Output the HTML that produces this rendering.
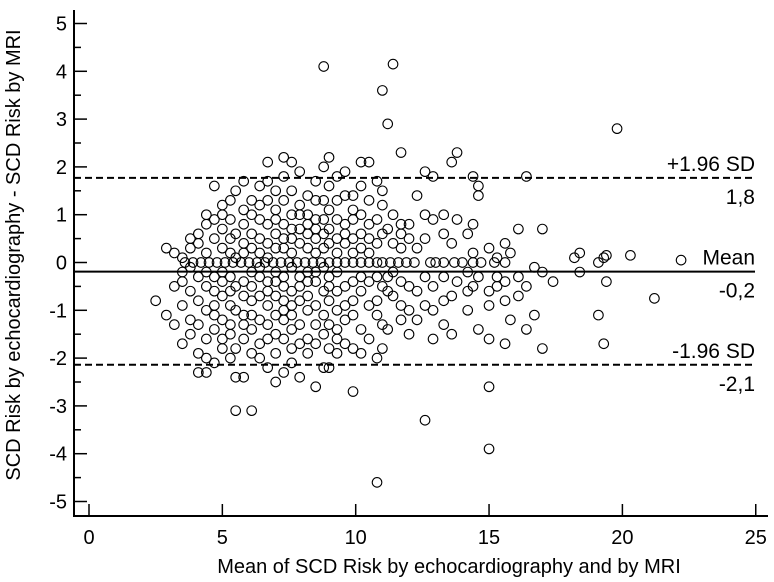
<!DOCTYPE html>
<html><head><meta charset="utf-8"><style>
html,body{margin:0;padding:0;background:#fff}
svg{display:block;font-family:"Liberation Sans",Arial,sans-serif}
</style></head><body>
<svg id="chart" width="774" height="582" viewBox="0 0 774 582" xmlns="http://www.w3.org/2000/svg"></svg>
<script>
const meanValues = [
3.6,3.9,4.2,4.5,4.8,5.1,5.4,5.7,6.0,6.3,6.6,6.9,7.2,7.5,7.8,8.1,8.4,8.7,9.0,9.3,9.6,9.9,10.2,10.5,10.8,11.0,11.3,11.6,11.9,12.2,12.8,13.0,13.3,13.7,14.0,14.4,14.7,15.2,15.6,
2.5,2.9,2.9,3.2,3.2,3.2,3.5,3.5,3.5,3.5,3.5,3.8,3.8,3.8,3.8,3.8,3.8,
4.1,4.1,4.1,4.1,4.1,4.1,4.1,4.4,4.4,4.4,4.4,4.4,4.4,4.4,4.4,4.4,
4.7,4.7,4.7,4.7,4.7,4.7,4.7,4.7,4.7,5.0,5.0,5.0,5.0,5.0,5.0,5.0,5.0,5.0,5.0,
5.3,5.3,5.3,5.3,5.3,5.3,5.3,5.3,5.3,5.3,5.5,5.5,5.5,5.5,5.5,5.5,5.5,5.5,
5.8,5.8,5.8,5.8,5.8,5.8,5.8,5.8,5.8,5.8,5.8,6.1,6.1,6.1,6.1,6.1,6.1,6.1,6.1,6.1,6.1,6.1,
6.4,6.4,6.4,6.4,6.4,6.4,6.4,6.4,6.4,6.4,6.4,6.7,6.7,6.7,6.7,6.7,6.7,6.7,6.7,6.7,6.7,6.7,6.7,
7.0,7.0,7.0,7.0,7.0,7.0,7.0,7.0,7.0,7.0,7.0,7.0,7.3,7.3,7.3,7.3,7.3,7.3,7.3,7.3,7.3,7.3,7.3,7.3,7.3,
7.6,7.6,7.6,7.6,7.6,7.6,7.6,7.6,7.6,7.6,7.6,7.6,7.6,7.9,7.9,7.9,7.9,7.9,7.9,7.9,7.9,7.9,7.9,7.9,
8.2,8.2,8.2,8.2,8.2,8.2,8.2,8.2,8.2,8.2,8.2,8.5,8.5,8.5,8.5,8.5,8.5,8.5,8.5,8.5,8.5,8.5,8.5,
8.8,8.8,8.8,8.8,8.8,8.8,8.8,8.8,8.8,8.8,8.8,9.0,9.0,9.0,9.0,9.0,9.0,9.0,9.0,9.0,9.0,9.0,
9.3,9.3,9.3,9.3,9.3,9.3,9.3,9.3,9.3,9.3,9.3,9.6,9.6,9.6,9.6,9.6,9.6,9.6,9.6,9.6,
9.9,9.9,9.9,9.9,9.9,9.9,9.9,9.9,9.9,9.9,10.2,10.2,10.2,10.2,10.2,10.2,10.2,10.2,10.2,
10.5,10.5,10.5,10.5,10.5,10.5,10.5,10.5,10.8,10.8,10.8,10.8,10.8,10.8,10.8,10.8,
11.0,11.0,11.0,11.0,11.0,11.0,11.0,11.2,11.2,11.2,11.2,11.2,11.4,11.4,11.4,11.4,11.4,
11.7,11.7,11.7,11.7,11.7,11.7,11.7,12.0,12.0,12.0,12.0,12.0,12.3,12.3,12.3,12.3,
12.6,12.6,12.6,12.6,12.6,12.6,12.9,12.9,12.9,12.9,12.9,13.3,13.3,13.3,13.3,13.3,
13.6,13.6,13.6,13.6,13.8,13.8,13.8,14.2,14.2,14.2,14.2,14.4,14.4,14.4,14.4,14.6,14.6,14.6,14.6,
15.0,15.0,15.0,15.0,15.0,15.0,15.3,15.3,15.3,15.6,15.6,15.6,15.6,15.8,15.8,16.1,16.1,16.1,
16.4,16.4,16.4,16.7,16.7,17.0,17.0,17.0,17.4,18.2,18.4,18.4,19.1,19.1,19.3,19.3,19.4,19.4,19.8,20.3,21.2,22.2
];
const diffValues = [
0,0,0,0,0,0,0,0,0,0,0,0,0,0,0,0,0,0,0,0,0,0,0,0,0,0,0,0,0,0,0,0,0,0,0,0,0,0,0,
-0.8,0.3,-1.1,-0.5,-1.3,0.2,-0.4,-0.9,0.1,-1.7,-0.2,0.3,-0.6,-1.2,0.5,-0.1,-1.5,
0.4,-0.3,-0.8,-1.3,0.6,-1.9,-2.3,0.2,-0.5,-1.0,0.8,-1.6,-2.0,-2.3,1.0,-0.2,
1.6,0.5,-0.3,-0.9,-1.4,0.9,-1.1,-0.6,-2.1,0.3,-0.2,-0.7,-1.2,1.2,0.7,-1.6,-1.8,1.0,-0.4,
0.5,0.9,-0.3,-0.9,-1.3,-1.5,-2.0,1.3,-0.6,0.2,-3.1,-2.4,0.1,-1.0,0.6,1.5,-0.5,-1.8,
0.4,0.8,-0.4,-1.1,-1.3,-0.7,1.1,-1.6,0.2,-2.4,1.7,0.3,-0.2,-0.8,-1.4,-1.9,0.6,1.3,-3.1,-0.5,1.0,-1.1,
0.5,0.9,-0.3,-0.7,-1.2,-1.7,1.2,1.6,-0.1,-2.0,0.2,2.1,1.7,0.4,-0.4,-0.9,-1.3,-1.6,0.8,1.3,-2.2,0.1,-0.6,
1.1,0.6,-0.2,-0.7,-1.1,-1.5,-1.9,1.5,0.3,-2.5,-0.4,0.9,2.2,1.8,1.3,0.8,0.3,-0.3,-0.8,-1.2,-1.6,-2.3,0.5,-0.5,-1.0,
2.1,1.5,1.0,0.5,-0.1,-0.6,-1.1,-1.4,-1.8,-2.1,0.2,0.7,-0.9,1.9,1.2,0.7,0.4,-0.3,-0.8,-1.3,-1.7,-2.4,1.0,-0.5,
1.4,1.0,0.6,0.3,-0.2,-0.7,-1.0,-1.6,-1.9,0.8,-0.4,1.7,1.3,0.9,0.5,0.2,-0.4,-0.9,-1.3,-1.7,-2.6,0.7,-0.2,
4.1,2.0,1.3,0.6,0.3,-0.1,-0.6,-1.1,-1.5,-2.2,0.9,2.2,1.6,1.1,0.4,-0.3,-0.8,-1.3,-1.8,-2.2,0.7,-0.5,
1.8,1.3,0.9,0.5,-0.2,-0.6,-1.0,-1.4,-1.6,-1.9,0.2,1.9,1.4,0.8,0.4,-0.5,-0.9,-1.2,-1.7,0.6,
1.4,0.9,0.5,0.2,-0.4,-0.8,-1.1,-1.8,-2.7,1.1,2.1,1.6,1.0,0.6,-0.3,-0.6,-1.4,-1.9,0.3,
2.1,1.3,0.8,0.5,-0.4,-0.9,-1.6,0.2,1.7,0.9,0.4,-0.3,-0.8,-1.1,-2.0,-4.6,
3.6,1.5,1.2,0.6,-0.5,-1.3,-1.8,2.9,0.7,-0.3,-0.6,-1.4,4.15,1.0,0.4,-0.2,-0.7,
2.3,0.8,0.6,-0.9,-1.2,-0.4,0.3,0.8,0.5,-0.5,-1.0,-1.5,1.4,0.3,-0.6,-1.2,
1.9,1.0,0.5,-0.3,-3.3,-0.9,1.8,0.9,-0.5,-1.0,-1.6,1.0,0.6,-0.3,-0.8,-1.3,
2.1,0.4,-0.7,-1.5,2.3,0.9,-0.4,0.6,-0.2,-0.6,-1.0,1.8,0.8,0.2,-0.5,1.6,1.4,-0.3,-1.4,
0.3,-0.6,-0.9,-1.6,-2.6,-3.9,-0.3,-0.5,0.1,0.4,-0.4,-0.8,-1.7,0.2,-1.2,0.7,-0.3,-0.7,
1.8,-0.5,-1.4,-0.1,-1.1,0.7,-0.2,-1.8,-0.4,0.1,0.2,-0.2,-1.1,0.0,-1.7,0.1,-0.4,0.15,2.8,0.15,-0.75,0.05
];
const xTicks = [0,5,10,15,20,25];
const yTicks = [-5,-4,-3,-2,-1,0,1,2,3,4,5];
const refValues = [1.77,-0.19,-2.14];
const refTop = ["+1.96 SD","Mean","-1.96 SD"];
const refBottom = ["1,8","-0,2","-2,1"];

const svg = document.getElementById('chart');
const NS = 'http://www.w3.org/2000/svg';
const X = v => 89 + v * 26.67;
const Y = v => 262.5 - v * 47.8;
function mk(tag, attrs, parent) {
  const e = document.createElementNS(NS, tag);
  for (const k in attrs) e.setAttribute(k, attrs[k]);
  (parent || svg).appendChild(e);
  return e;
}
const pg = mk('g', {});


for (let i = 0; i < meanValues.length; i++) {
  const c = mk('circle', {cx: X(meanValues[i]), cy: Y(diffValues[i]), r: 4.8, fill: 'none', stroke: '#000', 'stroke-width': 1.1}, pg);
  
  
}
for (let i = 0; i < refValues.length; i++) {
  const y = Y(refValues[i]);
  const l = mk('line', {x1: 74, x2: 755, y1: y, y2: y, stroke: '#000', 'stroke-width': 2, 'stroke-dasharray': i === 1 ? 'none' : '7,4'});
  
  
  const t1 = mk('text', {x: 755, y: y - 7, 'text-anchor': 'end', 'font-size': 21});
  t1.textContent = refTop[i];
  
  
  const t2 = mk('text', {x: 755, y: y + 26, 'text-anchor': 'end', 'font-size': 21});
  t2.textContent = refBottom[i];
  
  
}
const ya = mk('line', {x1: 74, x2: 74, y1: 10, y2: 517, stroke: '#000', 'stroke-width': 2});


const xa = mk('line', {x1: 73, x2: 768, y1: 516, y2: 516, stroke: '#000', 'stroke-width': 2});


for (const v of yTicks) {
  const y = Y(v);
  mk('line', {x1: 74, x2: 87, y1: y, y2: y, stroke: '#000', 'stroke-width': 1.5});
  if (v < 5) mk('line', {x1: 74, x2: 81, y1: Y(v + 0.5), y2: Y(v + 0.5), stroke: '#000', 'stroke-width': 1.5});
  const t = mk('text', {x: 67, y: y + 7, 'text-anchor': 'end', 'font-size': 20});
  t.textContent = v;
  
  
}
for (const v of xTicks) {
  const x = X(v);
  mk('line', {x1: x, x2: x, y1: 516, y2: 504, stroke: '#000', 'stroke-width': 1.5});
  const t = mk('text', {x: x, y: 544, 'text-anchor': 'middle', 'font-size': 20});
  t.textContent = v;
  
  
}
const xt = mk('text', {x: 449, y: 573, 'text-anchor': 'middle', 'font-size': 20});
xt.textContent = 'Mean of SCD Risk by echocardiography and by MRI';


const yt = mk('text', {x: 0, y: 0, 'text-anchor': 'middle', 'font-size': 20, transform: 'translate(20,255) rotate(-90)'});
yt.textContent = 'SCD Risk by echocardiography - SCD Risk by MRI';


</script>
</body></html>
